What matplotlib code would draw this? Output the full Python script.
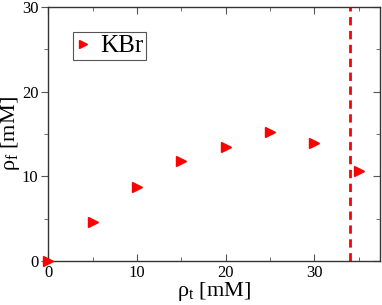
import matplotlib
matplotlib.use('Agg')
import matplotlib.pyplot as plt
from matplotlib.ticker import MultipleLocator

# data
rho_t = [0, 5, 10, 15, 20, 25, 30, 35]
rho_f = [0.0, 4.6, 8.7, 11.8, 13.5, 15.3, 13.9, 10.6]
x_cut = 34.0
series_label = 'KBr'

plt.rcParams['font.family'] = ['Liberation Serif', 'DejaVu Serif']
plt.rcParams['mathtext.fontset'] = 'custom'
plt.rcParams['mathtext.rm'] = 'Liberation Serif'
plt.rcParams['mathtext.it'] = 'Liberation Serif:italic'

fig = plt.figure(figsize=(3.82, 3.05), dpi=100)
ax = fig.add_axes([0.126, 0.144, 0.869, 0.833])

ax.plot(rho_t, rho_f, linestyle='none', marker='>', color='red',
        markersize=7.5, clip_on=False, zorder=5, label=series_label)
ax.axvline(x_cut, color='red', linewidth=2, dashes=(3, 2))

ax.set_xlim(0, 37.4)
ax.set_ylim(0, 30)
ax.xaxis.set_major_locator(MultipleLocator(10))
ax.xaxis.set_minor_locator(MultipleLocator(5))
ax.yaxis.set_major_locator(MultipleLocator(10))
ax.yaxis.set_minor_locator(MultipleLocator(5))

for s in ax.spines.values():
    s.set_color('#333333')
    s.set_linewidth(1)

ax.tick_params(axis='x', which='both', direction='in', top=True, labelsize=12,
               color='#555555', pad=3)
ax.tick_params(axis='y', which='both', direction='out', labelsize=12,
               color='#555555', pad=2)
ax.tick_params(which='major', length=5)
ax.tick_params(which='minor', length=3)
# right side ticks point inward
ax2 = ax.secondary_yaxis('right')
ax2.yaxis.set_major_locator(MultipleLocator(10))
ax2.yaxis.set_minor_locator(MultipleLocator(5))
ax2.tick_params(which='both', direction='in', labelright=False, color='#555555')
ax2.tick_params(which='major', length=5)
ax2.tick_params(which='minor', length=3)
ax2.spines['right'].set_visible(False)

ax.set_xlabel('ρ$_{\\mathrm{t}}$ [mM]', fontsize=16, labelpad=-1)
ax.set_ylabel('ρ$_{\\mathrm{f}}$ [mM]', fontsize=16, labelpad=0)

leg = ax.legend(loc='upper left', bbox_to_anchor=(0.075, 0.9), fontsize=18,
                handlelength=0.6, handletextpad=0.4, borderpad=0.1,
                borderaxespad=0, fancybox=False, framealpha=1, markerscale=0.85)
leg.get_frame().set_edgecolor('#555555')
leg.get_frame().set_linewidth(0.8)

fig.savefig('out.png', dpi=100)
